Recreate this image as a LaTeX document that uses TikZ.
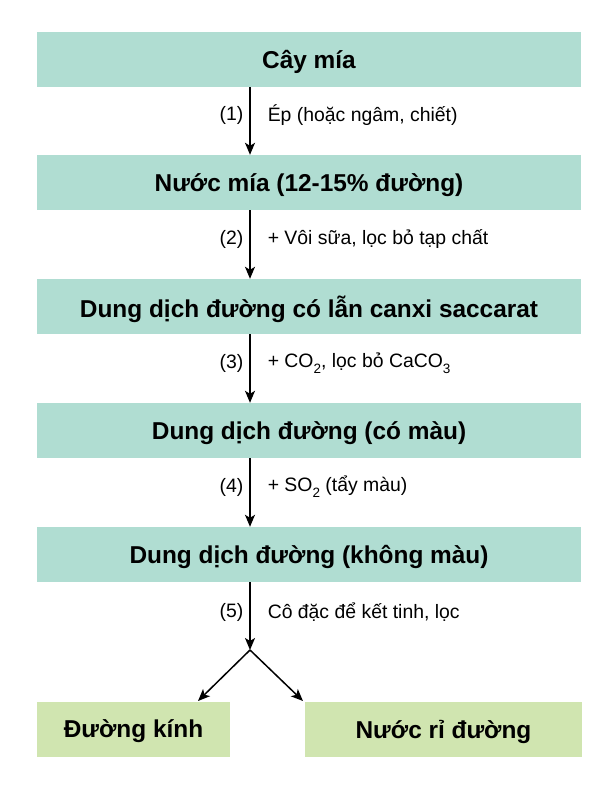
\documentclass[tikz,border=0pt]{standalone}
\usepackage{fontspec}
\setmainfont{Liberation Sans}
\usetikzlibrary{arrows.meta}
\definecolor{teal box}{RGB}{176,221,210}
\definecolor{green box}{RGB}{208,229,176}
\newcommand\chemsub[1]{\raisebox{-0.3em}{\fontsize{13.5}{14}\selectfont #1}}
\tikzset{
  stage/.style={fill=teal box, inner sep=0pt, minimum width=544pt, minimum height=55pt,
    text depth=0pt, font=\fontsize{24.4}{28}\selectfont\bfseries},
  product/.style={fill=green box, inner sep=0pt, minimum height=55pt,
    text depth=0pt, font=\fontsize{24.4}{28}\selectfont\bfseries},
  flow/.style={line width=1.5pt, -{Stealth[length=12pt,width=10pt,inset=3pt]}},
  stepno/.style={left, inner sep=0pt, xshift=-6pt, font=\fontsize{19.4}{22}\selectfont},
  steptext/.style={right, inner sep=0pt, xshift=17pt, font=\fontsize{19.4}{22}\selectfont}
}
\begin{document}
\begin{tikzpicture}[x=1pt, y=-1pt]
		\useasboundingbox (0,0) rectangle (614,800);

		\node (cane) [stage] at (309, 59.5) {Cây mía};
		\node (juice) [stage] at (309, 182.5) {Nước mía (12-15\% đường)};
		\node (saccarat) [stage] at (309, 306.5) {Dung dịch đường có lẫn canxi saccarat};
		\node (coloured) [stage] at (309, 430.5) {Dung dịch đường (có màu)};
		\node (clear) [stage] at (309, 554.5) {Dung dịch đường (không màu)};

		\node (crystal) [product, minimum width=193pt] at (133.5, 729) {Đường kính};
		\node (molasses) [product, minimum width=277pt] at (443.5, 729) {Nước rỉ đường};

		\coordinate (split) at (250, 650);

		\draw [flow] (cane.south -| split) -- (juice.north -| split)
		    node [stepno, pos=0.42] {(1)} node [steptext, pos=0.42] {Ép (hoặc ngâm, chiết)};
		\draw [flow] (juice.south -| split) -- (saccarat.north -| split)
		    node [stepno, pos=0.42] {(2)} node [steptext, pos=0.42] {+ Vôi sữa, lọc bỏ tạp chất};
		\draw [flow] (saccarat.south -| split) -- (coloured.north -| split)
		    node [stepno, pos=0.42] {(3)} node [steptext, pos=0.42] {+ CO\chemsub{2}, lọc bỏ CaCO\chemsub{3}};
		\draw [flow] (coloured.south -| split) -- (clear.north -| split)
		    node [stepno, pos=0.42] {(4)} node [steptext, pos=0.42] {+ SO\chemsub{2} (tẩy màu)};
		\draw [flow] (clear.south -| split) -- (split)
		    node [stepno, pos=0.44] {(5)} node [steptext, pos=0.44] {Cô đặc để kết tinh, lọc};

		\draw [flow] (split) -- (198, 701);
		\draw [flow] (split) -- (303, 701);
	\end{tikzpicture}
\end{document}
